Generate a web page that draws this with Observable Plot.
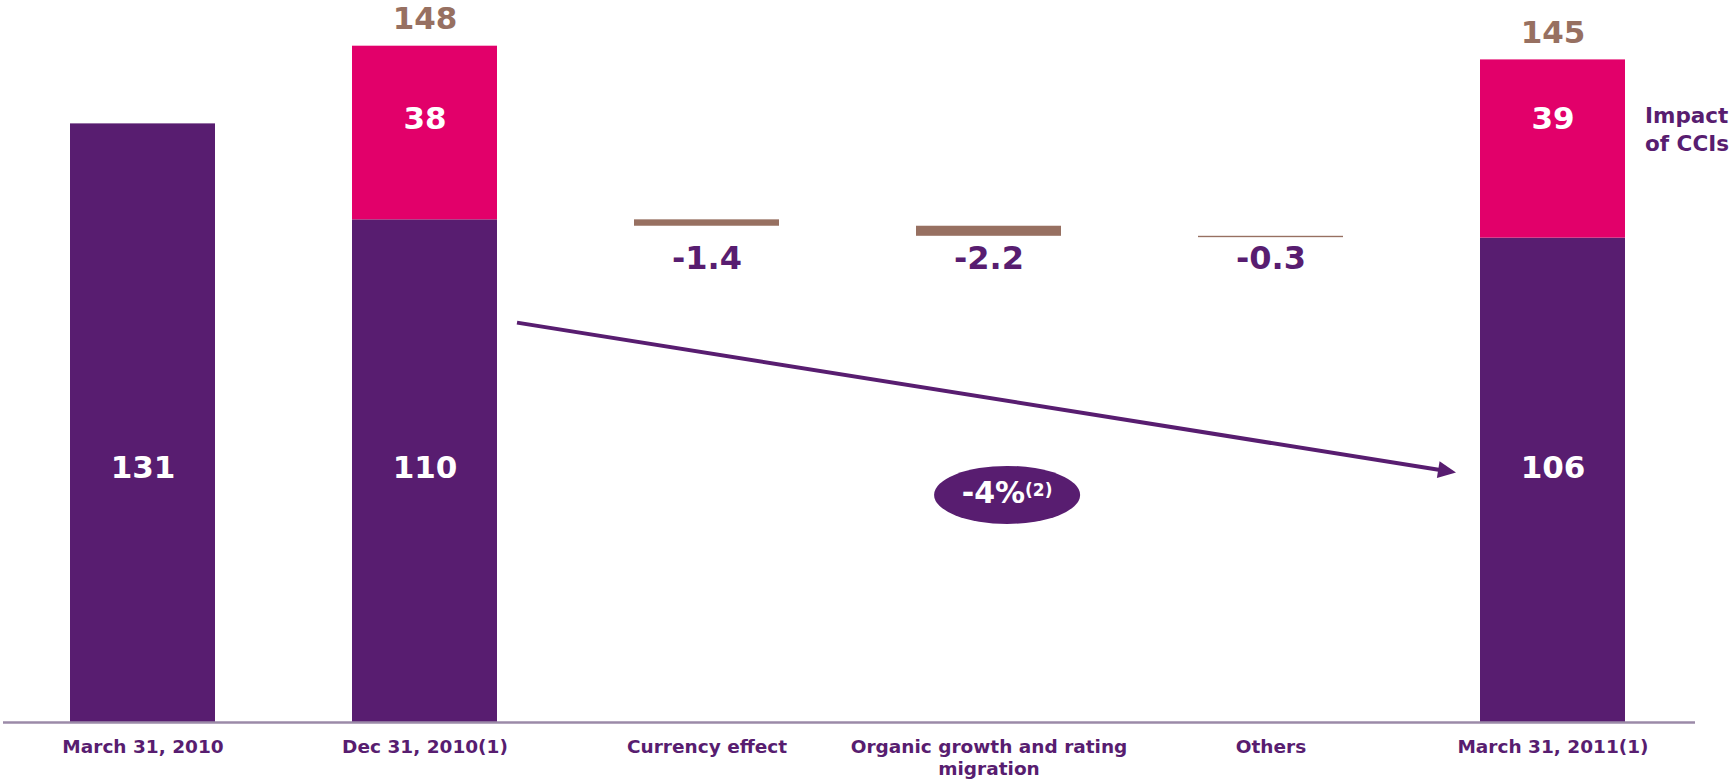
<!DOCTYPE html>
<html>
<head>
<meta charset="utf-8">
<script src="https://cdn.jsdelivr.net/npm/d3@7"></script>
<script src="https://cdn.jsdelivr.net/npm/@observablehq/plot@0.6"></script>
<style>
  html, body { margin: 0; padding: 0; background: #ffffff; }
  #chart svg { display: block; }
</style>
</head>
<body>
<div id="chart"></div>
<script>
// ---- Data ----
const categories = [
  "March 31, 2010",
  "Dec 31, 2010(1)",
  "Currency effect",
  "Organic growth and rating migration",
  "Others",
  "March 31, 2011(1)"
];
const tickLabels = [
  "March 31, 2010",
  "Dec 31, 2010(1)",
  "Currency effect",
  "Organic growth and rating\nmigration",
  "Others",
  "March 31, 2011(1)"
];
const baseValues  = [131, 110, null, null, null, 106];
const cciValues   = [null, 38, null, null, null, 39];
const totalValues = [null, 148, null, null, null, 145];
const changeCategories = ["Currency effect", "Organic growth and rating migration", "Others"];
const changeValues = [-1.4, -2.2, -0.3];
const changeStart = 110;
const growthLabel = "-4%";
const growthNote = "(2)";
const cciLabel = "Impact\nof CCIs";
const arrowFrom = { category: "Dec 31, 2010(1)", value: 87.4 };
const arrowTo   = { category: "March 31, 2011(1)", value: 54.6 };
const bubble = { category: "Organic growth and rating migration", value: 49.7 };

// ---- Colours ----
const PURPLE = "#581d70";
const PINK = "#e2006a";
const BROWN = "#977061";
const AXIS = "#9b8aa8";
const FONT = "DejaVu Sans, Verdana, sans-serif";

// ---- Derived tables ----
const stacks = categories.map((c, i) => ({
  cat: c, base: baseValues[i], cci: cciValues[i], total: totalValues[i]
}));
const baseRows = stacks.filter(d => d.base != null);
const cciRows = stacks.filter(d => d.cci != null);
let running = changeStart;
const changeRows = changeCategories.map((c, i) => {
  const y1 = running, y2 = running + changeValues[i];
  running = y2;
  return { cat: c, y1, y2, v: changeValues[i] };
});

const LABEL_BASE = 55.6;   // level of white labels in purple segments
const LABEL_CCI = 132;     // level of white labels in pink segments
const LABEL_CHANGE = 101.5;

const plot = Plot.plot({
  width: 1730,
  height: 780,
  marginTop: 0,
  marginBottom: 58,
  marginLeft: 0,
  marginRight: 35,
  style: { fontFamily: FONT, background: "#ffffff" },
  x: { domain: categories, paddingInner: 0.487, paddingOuter: 0.245, axis: null },
  y: { domain: [0, 158], axis: null },
  marks: [
    Plot.barY(baseRows, { x: "cat", y1: 0, y2: "base", fill: PURPLE }),
    Plot.barY(cciRows, { x: "cat", y1: "base", y2: d => d.base + d.cci, fill: PINK }),
    Plot.barY(changeRows, { x: "cat", y1: "y1", y2: "y2", fill: BROWN }),
    Plot.ruleY([0], { stroke: AXIS, strokeWidth: 2.5, insetLeft: 3 }),
    Plot.text(baseRows, { x: "cat", y: () => LABEL_BASE, text: d => String(d.base),
      fill: "white", fontSize: 31, fontWeight: "bold", textAnchor: "middle" }),
    Plot.text(cciRows, { x: "cat", y: () => LABEL_CCI, text: d => String(d.cci),
      fill: "white", fontSize: 31, fontWeight: "bold" }),
    Plot.text(cciRows, { x: "cat", y: "total", text: d => String(d.total), dy: -27,
      fill: BROWN, fontSize: 31, fontWeight: "bold" }),
    Plot.text(changeRows, { x: "cat", y: () => LABEL_CHANGE, text: d => d.v.toFixed(1),
      fill: PURPLE, fontSize: 32, fontWeight: "bold" }),
    Plot.text(categories, { x: d => d, y: () => 0, text: (d, i) => tickLabels[i],
      fill: PURPLE, fontSize: 18.5, fontWeight: "bold", lineAnchor: "top", dy: 16, lineHeight: 1.14 }),
    Plot.text([categories[categories.length - 1]], { x: d => d, y: () => 130, text: () => cciLabel,
      fill: PURPLE, fontSize: 21.5, fontWeight: "bold", textAnchor: "start", dx: 92, lineHeight: 1.3 })
  ]
});

document.getElementById("chart").appendChild(plot);

// ---- Annotations positioned through the plot's scales ----
const xs = plot.scale("x");
const ys = plot.scale("y");
const bw = xs.bandwidth;
const svg = d3.select(plot);

// arrow
const ax1 = xs.apply(arrowFrom.category) + bw + 20;
const ay1 = ys.apply(arrowFrom.value);
const ax2 = xs.apply(arrowTo.category) - 24;
const ay2 = ys.apply(arrowTo.value);
const ang = Math.atan2(ay2 - ay1, ax2 - ax1);
const headL = 18, headW = 8.5;
const bx = ax2 - headL * Math.cos(ang), by = ay2 - headL * Math.sin(ang);
const g = svg.append("g");
g.append("line")
  .attr("x1", ax1).attr("y1", ay1).attr("x2", bx + 2 * Math.cos(ang)).attr("y2", by + 2 * Math.sin(ang))
  .attr("stroke", PURPLE).attr("stroke-width", 4);
g.append("polygon")
  .attr("points", [
    [ax2, ay2],
    [bx - headW * Math.sin(ang), by + headW * Math.cos(ang)],
    [bx + headW * Math.sin(ang), by - headW * Math.cos(ang)]
  ].map(p => p.join(",")).join(" "))
  .attr("fill", PURPLE);

// bubble
const ex = xs.apply(bubble.category) + bw / 2 + 18.6;
const ey = ys.apply(bubble.value);
g.append("ellipse").attr("cx", ex).attr("cy", ey).attr("rx", 73).attr("ry", 29).attr("fill", PURPLE);
const t = g.append("text")
  .attr("x", ex).attr("y", ey + 8)
  .attr("text-anchor", "middle")
  .attr("fill", "white")
  .attr("font-family", FONT)
  .attr("font-weight", "bold");
t.append("tspan").attr("font-size", 30).text(growthLabel);
t.append("tspan").attr("font-size", 17).attr("dy", -7).text(growthNote);
</script>
</body>
</html>
